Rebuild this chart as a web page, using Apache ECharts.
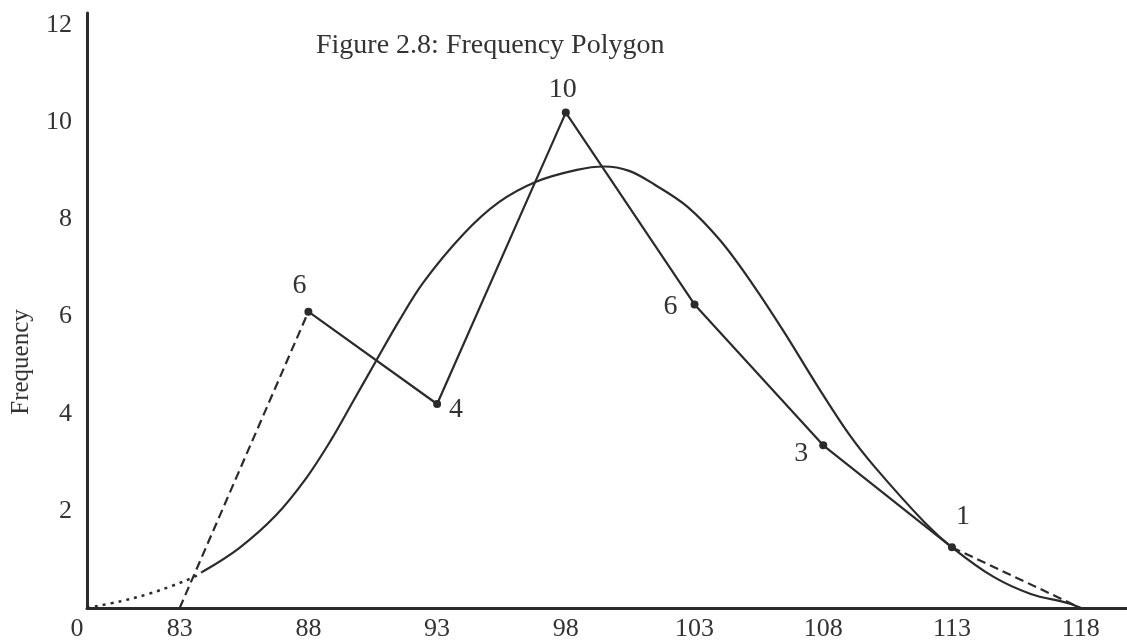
<!DOCTYPE html>
<html>
<head>
<meta charset="utf-8">
<script src="https://cdn.jsdelivr.net/npm/echarts@6/dist/echarts.min.js"></script>
<style>
  html, body { margin: 0; padding: 0; background: #ffffff; }
  #chart { width: 1127px; height: 642px; }
</style>
</head>
<body>
<div id="chart"></div>
<script>
// ---------- data ----------
const titleText = 'Figure 2.8: Frequency Polygon';
const yAxisName = 'Frequency';
// class marks and frequencies (as plotted)
const classMarks = [88, 93, 98, 103, 108, 113];
const frequencies = [6.1, 4.2, 10.2, 6.25, 3.35, 1.25];
const freqLabels = ['6', '4', '10', '6', '3', '1'];
// zero-frequency end points of the polygon
const lowerEnd = [83, 0];
const upperEnd = [118, 0];
// smooth fitted curve (solid part)
const curveX = [83.87, 85.30, 86.74, 87.91, 88.87, 89.69, 90.60, 91.51, 92.46,
                94.01, 95.39, 96.87, 98.43, 99.48, 100.46,
                101.44, 102.73, 104.01, 105.24, 106.47, 107.74, 109.0, 110.04, 111.96, 113.0,
                114.62, 116.06, 117.51, 118.0];
const curveY = [0.74, 1.23, 1.91, 2.67, 3.45, 4.21, 5.06, 5.90, 6.70,
                7.69, 8.35, 8.78, 9.02, 9.09, 9.00,
                8.72, 8.26, 7.56, 6.68, 5.69, 4.60, 3.58, 2.88, 1.75, 1.25,
                0.64, 0.29, 0.10, 0.0];
// dotted continuation of the curve near the origin
const dottedX = [79.4, 80.71, 81.79, 82.67, 83.57, 83.87];
const dottedY = [0.0, 0.14, 0.29, 0.45, 0.64, 0.74];
// axis ticks
const X_MIN = 79.4;
const X_MAX = 119.8;
const Y_MAX = 12.25;
const xTickValues = [83, 88, 93, 98, 103, 108, 113, 118];
const originLabel = '0';
const yTickValues = [2, 4, 6, 8, 10, 12];

// ---------- styles ----------
const FONT = '"Liberation Serif", "Times New Roman", serif';
const INK = '#2b2b2b';
const TEXT = '#333333';
const POINT_LABEL_LAYOUT = [
  { position: 'top',   offset: [-9, -3] },
  { position: 'right', offset: [3, 6] },
  { position: 'top',   offset: [-3, 0] },
  { position: 'left',  offset: [-8, 2] },
  { position: 'left',  offset: [-6, 8] },
  { position: 'top',   offset: [11, -8] }
];

const polygonData = classMarks.map((x, i) => ({
  value: [x, frequencies[i]],
  label: Object.assign({
    show: true,
    formatter: freqLabels[i],
    fontFamily: FONT,
    fontSize: 28,
    color: TEXT,
    distance: 5
  }, POINT_LABEL_LAYOUT[i])
}));

const chart = echarts.init(document.getElementById('chart'), null, { renderer: 'canvas' });
chart.setOption({
  backgroundColor: '#ffffff',
  animation: false,
  title: {
    text: titleText,
    left: 316,
    top: 32,
    padding: 0,
    textStyle: { fontFamily: FONT, fontSize: 28, fontWeight: 'normal', color: TEXT }
  },
  graphic: [{
    type: 'text',
    x: 21,
    y: 362,
    rotation: Math.PI / 2,
    style: {
      text: yAxisName,
      font: '25px ' + FONT,
      fill: TEXT,
      align: 'center',
      verticalAlign: 'middle'
    }
  }],
  grid: { left: 87, right: 0, top: 13, bottom: 33 },
  xAxis: {
    type: 'value',
    min: X_MIN,
    max: X_MAX,
    axisLine: { show: true, onZero: true, lineStyle: { color: INK, width: 3 } },
    axisTick: { show: false },
    splitLine: { show: false },
    axisLabel: {
      customValues: [X_MIN].concat(xTickValues),
      formatter: function (v) {
        return Math.abs(v - X_MIN) < 0.01 ? '{o|' + originLabel + '}' : String(v);
      },
      rich: { o: { padding: [0, 20, 0, 0], fontFamily: FONT, fontSize: 26, color: TEXT } },
      margin: 8,
      fontFamily: FONT,
      fontSize: 26,
      color: TEXT
    }
  },
  yAxis: {
    type: 'value',
    min: 0,
    max: Y_MAX,
    axisLine: { show: true, lineStyle: { color: INK, width: 3 } },
    axisTick: { show: false },
    splitLine: { show: false },
    axisLabel: {
      customValues: yTickValues,
      margin: 15,
      fontFamily: FONT,
      fontSize: 26,
      color: TEXT
    }
  },
  series: [
    {
      name: 'curve',
      type: 'line',
      data: curveX.map((x, i) => [x, curveY[i]]),
      smooth: 0.35,
      showSymbol: false,
      lineStyle: { color: INK, width: 2.2 },
      z: 2
    },
    {
      name: 'curve-dotted',
      type: 'line',
      data: dottedX.map((x, i) => [x, dottedY[i]]),
      smooth: 0.35,
      showSymbol: false,
      lineStyle: { color: INK, width: 2.5, type: [3, 5] },
      z: 2
    },
    {
      name: 'lower-extension',
      type: 'line',
      data: [lowerEnd, [classMarks[0], frequencies[0]]],
      showSymbol: false,
      lineStyle: { color: INK, width: 2.2, type: [9, 5] },
      z: 3
    },
    {
      name: 'upper-extension',
      type: 'line',
      data: [[classMarks[classMarks.length - 1], frequencies[frequencies.length - 1]], upperEnd],
      showSymbol: false,
      lineStyle: { color: INK, width: 2.2, type: [9, 5] },
      z: 3
    },
    {
      name: 'polygon',
      type: 'line',
      data: polygonData,
      symbol: 'circle',
      symbolSize: 8,
      showSymbol: true,
      itemStyle: { color: INK },
      lineStyle: { color: INK, width: 2.2 },
      z: 4
    }
  ]
});
</script>
</body>
</html>
